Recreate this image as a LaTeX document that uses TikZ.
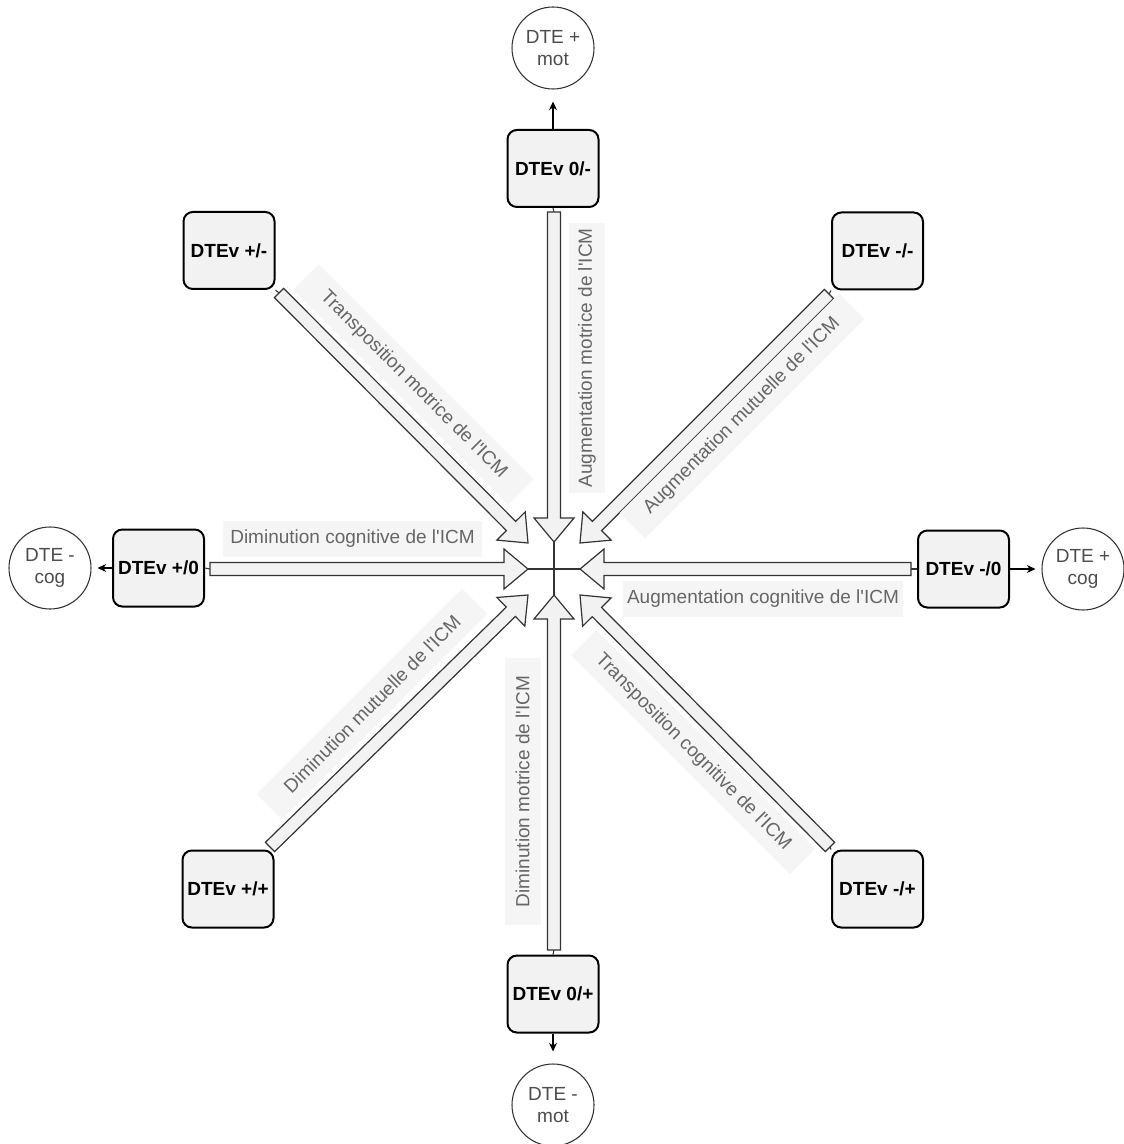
\documentclass[tikz,border=0pt]{standalone}
\usepackage{fontspec}
\setmainfont{Liberation Sans}
\usetikzlibrary{calc,arrows.meta}
\definecolor{boxfill}{HTML}{F2F2F2}
\definecolor{labfill}{HTML}{F5F5F5}
\definecolor{labtext}{HTML}{666666}
\definecolor{circtext}{HTML}{4D4D4D}
\definecolor{arrline}{HTML}{333333}
\tikzset{
  stateBox/.style={draw=black, line width=1.5pt, fill=boxfill, rounded corners=7pt,
    minimum width=68.25pt, minimum height=57.75pt, inner sep=0pt,
    font=\fontsize{14.25}{17}\selectfont\bfseries},
  endCircle/.style={circle, draw=arrline, line width=0.8pt, fill=white,
    minimum size=61.5pt, inner sep=0pt, align=center, text=circtext,
    font=\fontsize{14.25}{17}\selectfont},
  flexLabel/.style={fill=labfill, text=labtext, inner sep=0pt, minimum height=27pt,
    font=\fontsize{14.25}{17}\selectfont},
  flexBody/.style={draw=arrline, line width=0.9pt, fill=boxfill, line join=miter},
  stub/.style={draw=arrline, line width=0.8pt},
  outArrow/.style={draw=black, line width=0.8pt, -{Stealth[length=6.5pt,width=6pt]}},
}
% straight apostrophe
\newcommand\ap{\textquotesingle}
% flex arrow: shaft from #1 to a head whose tip is #2
\newcommand\flexarrow[2]{%
  \coordinate (neck) at ($(#2)!18pt!(#1)$);
  \draw[flexBody] ($(#1)!4.9pt!90:(#2)$) -- ($(neck)!4.9pt!90:(#2)$)
    -- ($(neck)!15pt!90:(#2)$) -- (#2) -- ($(neck)!15pt!-90:(#2)$)
    -- ($(neck)!4.9pt!-90:(#2)$) -- ($(#1)!4.9pt!-90:(#2)$) -- cycle;
}
\begin{document}
\begin{tikzpicture}[x=0.75pt, y=-0.75pt]
\useasboundingbox (0,0) rectangle (1123,1144);

% state boxes
\node[stateBox] (zm) at (553,168.5) {DTEv 0/-};
\node[stateBox] (zp) at (553,994) {DTEv 0/+};
\node[stateBox] (pz) at (158.5,568) {DTEv +/0};
\node[stateBox] (mz) at (963.5,569) {DTEv -/0};
\node[stateBox] (pm) at (229,250.5) {DTEv +/-};
\node[stateBox] (mm) at (877.5,251) {DTEv -/-};
\node[stateBox] (pp) at (228,889) {DTEv +/+};
\node[stateBox] (mp) at (877.5,889) {DTEv -/+};

% outcome circles
\node[endCircle] (motP) at (553,48) {DTE +\\mot};
\node[endCircle] (motM) at (553,1105) {DTE -\\mot};
\node[endCircle] (cogM) at (50,568) {DTE -\\cog};
\node[endCircle] (cogP) at (1083,569) {DTE +\\cog};

% arrows from boxes to outcomes
\draw[outArrow, shorten >=9pt] (zm.north) -- (motP.south);
\draw[outArrow, shorten >=9pt] (zp.south) -- (motM.north);
\draw[outArrow, shorten >=4.5pt] (pz.west) -- (cogM.east);
\draw[outArrow, shorten >=4.5pt] (mz.east) -- (cogP.west);

% arrow tips around the centre
\coordinate (c) at (554,569);
\coordinate (tN) at (554,542);
\coordinate (tS) at (554,595);
\coordinate (tW) at (528,569);
\coordinate (tE) at (580,569);
\coordinate (tNW) at (528,543);
\coordinate (tNE) at (580,543);
\coordinate (tSW) at (528,595);
\coordinate (tSE) at (580,595);

% shaft starts
\coordinate (sN) at (554,212);
\coordinate (sS) at (554,950);
\coordinate (sW) at (210,569);
\coordinate (sE) at (911,569);
\coordinate (sNW) at (279,293);
\coordinate (sNE) at (829,294);
\coordinate (sSW) at (270,847);
\coordinate (sSE) at (830,847);

% stubs between boxes and shafts
\draw[stub] (zm.south) -- (sN);
\draw[stub] (zp.north) -- (sS);
\draw[stub] (pz.east) -- (sW);
\draw[stub] (mz.west) -- (sE);
\draw[stub] (pm.south east) -- (sNW);
\draw[stub] (mm.south west) -- (sNE);
\draw[stub] (pp.north east) -- (sSW);
\draw[stub] (mp.north west) -- (sSE);

% flex arrows
\flexarrow{sN}{tN}
\flexarrow{sS}{tS}
\flexarrow{sW}{tW}
\flexarrow{sE}{tE}
\flexarrow{sNW}{tNW}
\flexarrow{sNE}{tNE}
\flexarrow{sSW}{tSW}
\flexarrow{sSE}{tSE}

% central cross
\draw[stub] (tW) -- (tE);
\draw[stub] (tN) -- (tS);

% labels
\node[flexLabel, minimum width=194pt] (lW) at (352.5,538.5) {Diminution cognitive de l\ap ICM};
\node[flexLabel, minimum width=210pt] (lE) at (763,599) {Augmentation cognitive de l\ap ICM};
\node[flexLabel, minimum width=202pt, rotate=90] (lN) at (587,358) {Augmentation motrice de l\ap ICM};
\node[flexLabel, minimum width=200pt, rotate=90] (lS) at (522.5,791.5) {Diminution motrice de l\ap ICM};
\node[flexLabel, minimum width=228pt, rotate=-45] (lNW) at (413.5,384.5) {Transposition motrice de l\ap ICM};
\node[flexLabel, minimum width=233pt, rotate=45] (lNE) at (742,416) {Augmentation mutuelle de l\ap ICM};
\node[flexLabel, minimum width=218pt, rotate=45] (lSW) at (372,704) {Diminution mutuelle de l\ap ICM};
\node[flexLabel, minimum width=232pt, rotate=-45] (lSE) at (693,752) {Transposition cognitive de l\ap ICM};
\end{tikzpicture}
\end{document}
